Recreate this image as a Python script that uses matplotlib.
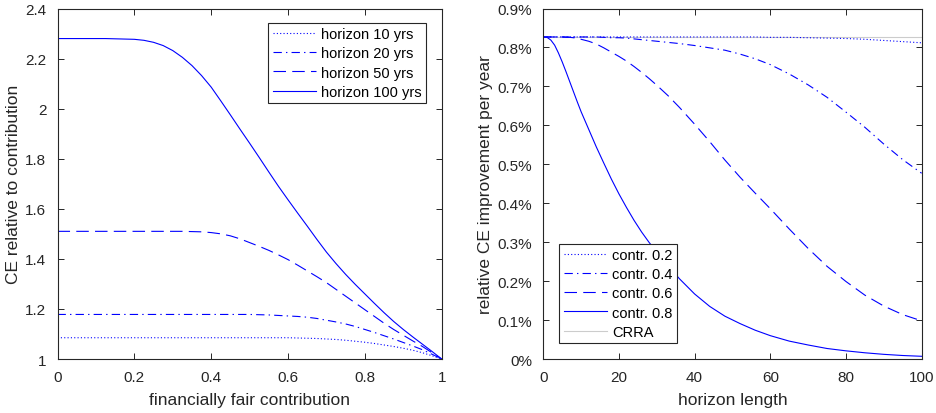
"""Certainty equivalent gains: by contribution level and by horizon length."""
import matplotlib

matplotlib.use("Agg")
import matplotlib.pyplot as plt
from matplotlib.ticker import FuncFormatter

# left panel: CE relative to contribution vs financially fair contribution
fair_contrib = [0.0, 0.025, 0.05, 0.075, 0.1, 0.125, 0.15, 0.175, 0.2, 0.225,
                0.25, 0.275, 0.3, 0.325, 0.35, 0.375, 0.4, 0.425, 0.45, 0.475,
                0.5, 0.525, 0.55, 0.575, 0.6, 0.625, 0.65, 0.675, 0.7, 0.725,
                0.75, 0.775, 0.8, 0.825, 0.85, 0.875, 0.9, 0.925, 0.95, 0.975, 1.0]
ce_h10 = [1.085, 1.085, 1.085, 1.085, 1.085, 1.085, 1.085, 1.085, 1.085, 1.085,
          1.085, 1.085, 1.085, 1.085, 1.085, 1.085, 1.085, 1.085, 1.085, 1.085,
          1.085, 1.085, 1.085, 1.085, 1.085, 1.084, 1.083, 1.082, 1.080, 1.078,
          1.075, 1.071, 1.067, 1.062, 1.056, 1.050, 1.043, 1.035, 1.025, 1.013, 1.0]
ce_h20 = [1.178, 1.178, 1.178, 1.178, 1.178, 1.178, 1.178, 1.178, 1.178, 1.178,
          1.178, 1.178, 1.178, 1.178, 1.178, 1.178, 1.178, 1.178, 1.178, 1.178,
          1.178, 1.177, 1.176, 1.174, 1.172, 1.170, 1.167, 1.162, 1.155, 1.148,
          1.140, 1.130, 1.118, 1.106, 1.093, 1.080, 1.066, 1.052, 1.037, 1.019, 1.0]
ce_h50 = [1.510, 1.510, 1.510, 1.510, 1.510, 1.510, 1.510, 1.510, 1.510, 1.510,
          1.510, 1.510, 1.510, 1.510, 1.509, 1.508, 1.505, 1.500, 1.492, 1.480,
          1.465, 1.450, 1.434, 1.416, 1.397, 1.375, 1.352, 1.329, 1.305, 1.278,
          1.251, 1.224, 1.197, 1.170, 1.143, 1.118, 1.095, 1.072, 1.050, 1.025, 1.0]
ce_h100 = [2.280, 2.280, 2.280, 2.280, 2.280, 2.280, 2.279, 2.278, 2.277, 2.273,
           2.265, 2.252, 2.232, 2.205, 2.172, 2.132, 2.086, 2.031, 1.975, 1.918,
           1.862, 1.805, 1.747, 1.690, 1.636, 1.583, 1.531, 1.478, 1.427, 1.381,
           1.338, 1.298, 1.260, 1.222, 1.185, 1.150, 1.118, 1.088, 1.059, 1.030, 1.0]
horizon_labels = ["horizon 10 yrs", "horizon 20 yrs", "horizon 50 yrs", "horizon 100 yrs"]

# right panel: relative CE improvement per year (%) vs horizon length
horizon = [0, 1, 2, 3, 4, 5, 6, 7, 8, 9, 10, 12, 14, 16, 18, 20, 22, 24, 26, 28, 30,
           33, 36, 40, 44, 48, 52, 56, 60, 65, 70, 75, 80, 85, 90, 95, 100]
imp_c02 = [0.827, 0.827, 0.827, 0.827, 0.827, 0.827, 0.827, 0.827, 0.827, 0.827, 0.827,
           0.827, 0.827, 0.827, 0.827, 0.827, 0.827, 0.827, 0.827, 0.827, 0.827,
           0.827, 0.827, 0.827, 0.827, 0.827, 0.827, 0.827, 0.826,
           0.826, 0.825, 0.824, 0.823, 0.821, 0.818, 0.815, 0.812]
imp_c04 = [0.827, 0.827, 0.827, 0.827, 0.827, 0.827, 0.827, 0.827, 0.827, 0.827, 0.827,
           0.827, 0.827, 0.826, 0.825, 0.825, 0.824, 0.822, 0.820, 0.818, 0.816,
           0.813, 0.810, 0.805, 0.799, 0.793, 0.783, 0.771, 0.756,
           0.732, 0.704, 0.672, 0.634, 0.595, 0.552, 0.512, 0.477]
imp_c06 = [0.827, 0.827, 0.827, 0.827, 0.827, 0.827, 0.826, 0.826, 0.825, 0.823, 0.821,
           0.816, 0.809, 0.799, 0.788, 0.777, 0.765, 0.751, 0.736, 0.720, 0.703,
           0.676, 0.646, 0.603, 0.558, 0.511, 0.467, 0.426, 0.386,
           0.334, 0.284, 0.238, 0.199, 0.164, 0.136, 0.114, 0.098]
imp_c08 = [0.827, 0.826, 0.819, 0.806, 0.786, 0.763, 0.738, 0.712, 0.686, 0.660, 0.635,
           0.590, 0.545, 0.503, 0.462, 0.424, 0.389, 0.356, 0.326, 0.299, 0.275,
           0.239, 0.206, 0.167, 0.135, 0.110, 0.091, 0.074, 0.060,
           0.046, 0.036, 0.027, 0.021, 0.016, 0.012, 0.009, 0.007]
crra_x = [0, 100]
crra_level = [0.827, 0.827]
contr_labels = ["contr. 0.2", "contr. 0.4", "contr. 0.6", "contr. 0.8", "CRRA"]

plt.rcParams["font.family"] = ["Liberation Sans", "DejaVu Sans"]
plt.rcParams["lines.scale_dashes"] = False

AXIS_COLOR = "#262626"
BLUE = (0, 0, 1)
LW = 0.8
STYLES = [(0, (0.8, 1.6)), (0, (6, 3, 1, 3)), (0, (9, 4.5)), "-"]


def style_axes(ax):
    """MATLAB-like box with inward ticks on all sides."""
    for sp in ax.spines.values():
        sp.set_color(AXIS_COLOR)
        sp.set_linewidth(0.8)
    ax.tick_params(direction="in", length=4, width=0.7, colors=AXIS_COLOR,
                   top=True, right=True, labelsize=11, pad=8)


def make_legend(ax, handles, labels, loc, anchor):
    leg = ax.legend(handles, labels, loc=loc, bbox_to_anchor=anchor,
                    bbox_transform=ax.figure.transFigure, fontsize=10.5,
                    fancybox=False, framealpha=1, edgecolor=AXIS_COLOR,
                    handlelength=3.0, handletextpad=0.3, labelspacing=0.35,
                    borderpad=0.3, borderaxespad=0)
    leg.get_frame().set_linewidth(0.8)
    return leg


fig = plt.figure(figsize=(9.37, 4.14), dpi=100)
ax1 = fig.add_axes([0.0614, 0.1304, 0.410, 0.8466])
ax2 = fig.add_axes([0.5798, 0.1304, 0.4038, 0.8466])

# left panel
lines1 = []
for vals, ls in zip([ce_h10, ce_h20, ce_h50, ce_h100], STYLES):
    (ln,) = ax1.plot(fair_contrib, vals, color=BLUE, linestyle=ls, linewidth=LW)
    lines1.append(ln)
ax1.set_xlim(0, 1)
ax1.set_ylim(1, 2.4)
ax1.set_xticks([0, 0.2, 0.4, 0.6, 0.8, 1])
ax1.set_yticks([1, 1.2, 1.4, 1.6, 1.8, 2, 2.2, 2.4])
ax1.xaxis.set_major_formatter(FuncFormatter(lambda v, _: f"{v:g}"))
ax1.yaxis.set_major_formatter(FuncFormatter(lambda v, _: f"{v:g}"))
ax1.set_xlabel("financially fair contribution", fontsize=12.5, color=AXIS_COLOR, labelpad=6)
ax1.set_ylabel("CE relative to contribution", fontsize=12.5, color=AXIS_COLOR, labelpad=3)
style_axes(ax1)
make_legend(ax1, lines1, horizon_labels, "upper right", (0.4543, 0.942))

# right panel
lines2 = []
for vals, ls in zip([imp_c02, imp_c04, imp_c06, imp_c08], STYLES):
    (ln,) = ax2.plot(horizon, vals, color=BLUE, linestyle=ls, linewidth=LW)
    lines2.append(ln)
(ln,) = ax2.plot(crra_x, crra_level, color=(0.8, 0.8, 0.8), linewidth=LW, zorder=1)
lines2.append(ln)
ax2.set_xlim(0, 100)
ax2.set_ylim(0, 0.9)
ax2.set_xticks([0, 20, 40, 60, 80, 100])
ax2.set_yticks([0, 0.1, 0.2, 0.3, 0.4, 0.5, 0.6, 0.7, 0.8, 0.9])
ax2.yaxis.set_major_formatter(FuncFormatter(lambda v, _: f"{round(v, 2):g}%"))
ax2.set_xlabel("horizon length", fontsize=12.5, color=AXIS_COLOR, labelpad=6)
ax2.set_ylabel("relative CE improvement per year", fontsize=12.5, color=AXIS_COLOR, labelpad=3)
style_axes(ax2)
make_legend(ax2, lines2, contr_labels, "lower left", (0.5969, 0.169))

fig.savefig("out.png", dpi=100)
